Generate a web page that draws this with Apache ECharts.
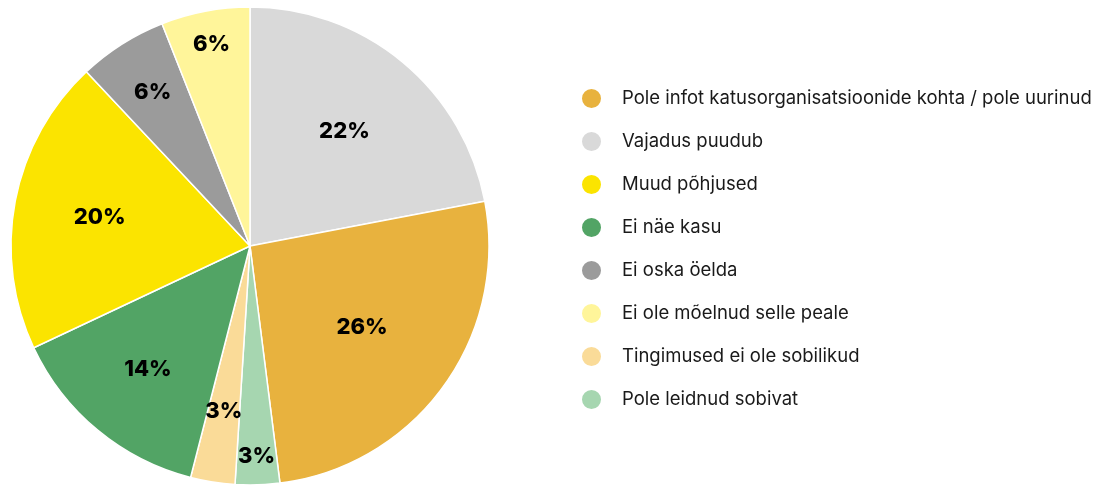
<!DOCTYPE html>
<html>
<head>
<meta charset="utf-8">
<script src="https://cdn.jsdelivr.net/npm/echarts@6/dist/echarts.min.js"></script>
<style>
    html, body { margin: 0; padding: 0; background: #fff; }
    #chart { width: 1099px; height: 486px; }
</style>
</head>
<body>
<div id="chart"></div>
<script>
// slices in clockwise order from 12 o'clock
const categories = [
    "Vajadus puudub",
    "Pole infot katusorganisatsioonide kohta / pole uurinud",
    "Pole leidnud sobivat",
    "Tingimused ei ole sobilikud",
    "Ei näe kasu",
    "Muud põhjused",
    "Ei oska öelda",
    "Ei ole mõelnud selle peale"
];
const values = [22, 26, 3, 3, 14, 20, 6, 6];
const colors = ["#D9D9D9", "#E8B23E", "#A6D6B0", "#FADB98", "#52A465", "#FBE400", "#9B9B9B", "#FFF59A"];
// legend order
const legendOrder = [
    "Pole infot katusorganisatsioonide kohta / pole uurinud",
    "Vajadus puudub",
    "Muud põhjused",
    "Ei näe kasu",
    "Ei oska öelda",
    "Ei ole mõelnud selle peale",
    "Tingimused ei ole sobilikud",
    "Pole leidnud sobivat"
];
// label distance from centre, as share of radius
const labelDist = [0.62, 0.58, 0.88, 0.70, 0.67, 0.64, 0.76, 0.86];

const chart = echarts.init(document.getElementById("chart"));

const pieData = categories.map((name, i) => ({
    name: name,
    value: values[i],
    itemStyle: { color: colors[i] }
}));

chart.setOption({
    animation: false,
    legend: {
        data: legendOrder,
        orient: "vertical",
        left: 575,
        top: 82,
        icon: "circle",
        itemWidth: 21,
        itemHeight: 21,
        itemGap: 20,
        selectedMode: false,
        textStyle: {
            fontFamily: "Inter",
            fontSize: 18.5,
            color: "#1a1a1a",
            padding: [0, 0, 0, 15]
        }
    },
    series: [
        {
            type: "pie",
            center: [250, 246],
            radius: [0, 239],
            startAngle: 90,
            clockwise: true,
            data: pieData,
            itemStyle: {
                borderColor: "#fff",
                borderWidth: 1.5
            },
            label: {
                show: true,
                position: "inside",
                formatter: "{c}%",
                fontFamily: "Inter",
                fontWeight: 800,
                fontSize: 22,
                color: "#000"
            },
            labelLine: { show: false },
            labelLayout: function (params) {
                const data = chart.getModel().getSeriesByIndex(0).getData();
                const lay = data.getItemLayout(params.dataIndex);
                const mid = (lay.startAngle + lay.endAngle) / 2;
                const d = lay.r * labelDist[params.dataIndex];
                return {
                    x: lay.cx + Math.cos(mid) * d,
                    y: lay.cy + Math.sin(mid) * d,
                    align: "center",
                    verticalAlign: "middle"
                };
            }
        }
    ]
});
</script>
</body>
</html>
